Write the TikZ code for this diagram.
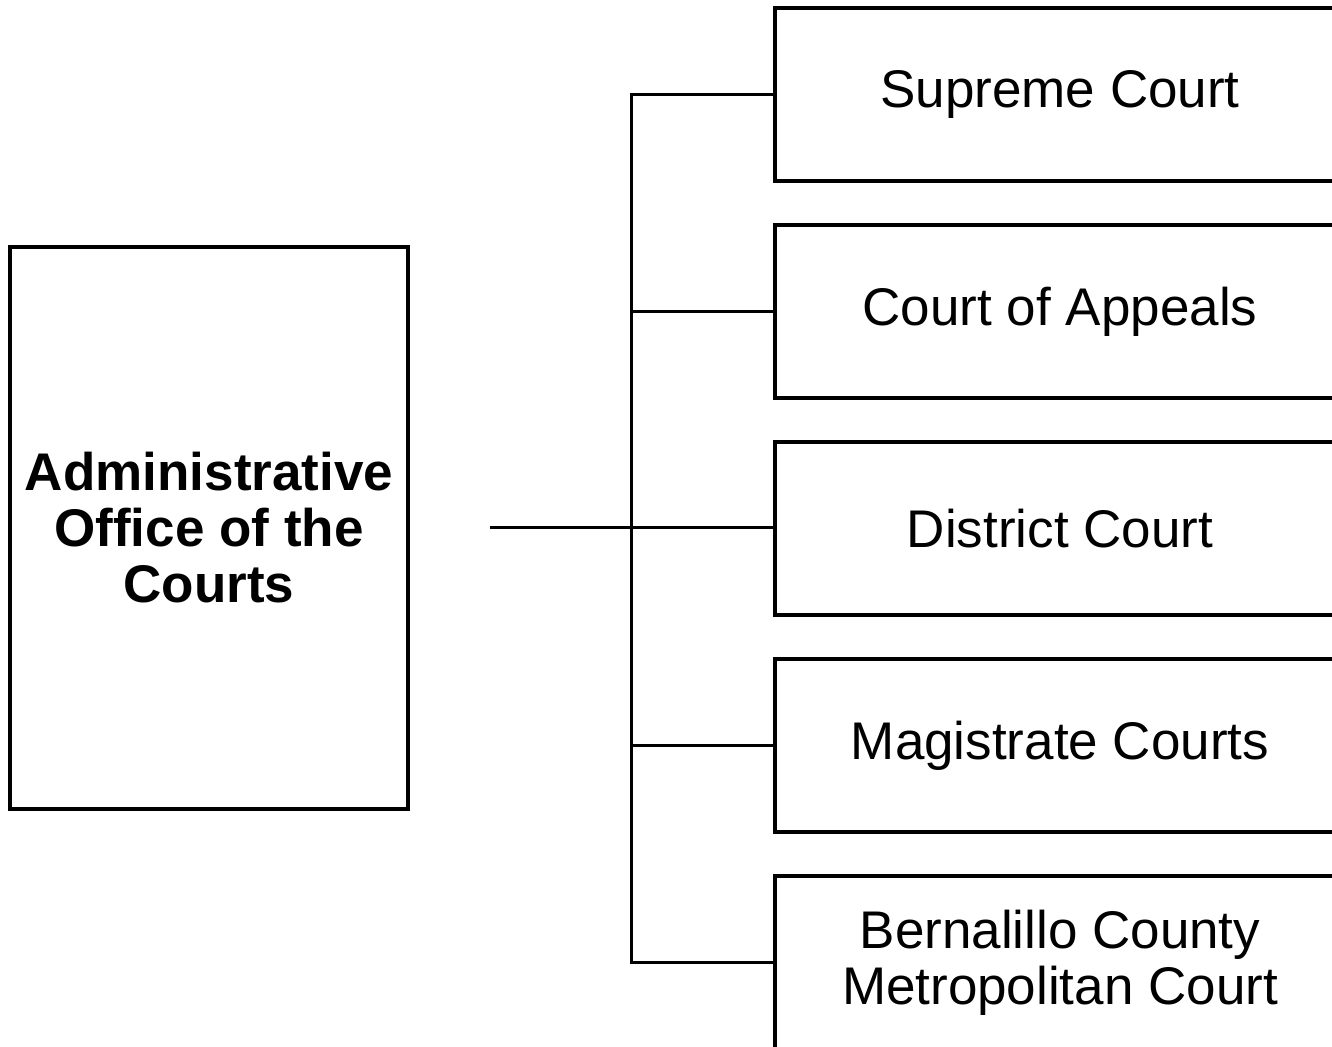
\documentclass[tikz,border=0pt]{standalone}
\usepackage{fontspec}
\setmainfont{Liberation Sans}
\usetikzlibrary{positioning}

\begin{document}
\begin{tikzpicture}[x=0.5pt,y=-0.5pt,-,line width=1.75pt,node distance=108.5pt,
  court node/.style={rectangle,draw,minimum width=285pt,minimum height=86.5pt,inner sep=0pt,align=center,font=\fontsize{26.5}{28}\selectfont},
  office node/.style={rectangle,draw,minimum width=199pt,minimum height=281pt,inner sep=0pt,align=center,font=\bfseries\fontsize{26.5}{28}\selectfont}]

            \useasboundingbox (0,0) rectangle (1332,1046);
            \clip (0,0) rectangle (1332,1046);

            \node[office node] (office) at (209,528) {Administrative\\Office of the\\Courts};

            \node[court node] (1) at (1060,94.5) {Supreme Court};
            \node[court node] (2) [below of = 1] {Court of Appeals};
            \node[court node] (3) [below of = 2] {District Court};
            \node[court node] (4) [below of = 3] {Magistrate Courts};
            \node[court node] (5) [below of = 4] {Bernalillo County\\Metropolitan Court};

            \coordinate (feed) at (490,527.5);

            % trunk
            \draw (1.west) -- ++(-142,0) |- (5.west);
            \draw (2.west) -- ++(-142,0);
            \draw (4.west) -- ++(-142,0);
            \draw (feed) -- (feed -| 3.west);

        \end{tikzpicture}
\end{document}
